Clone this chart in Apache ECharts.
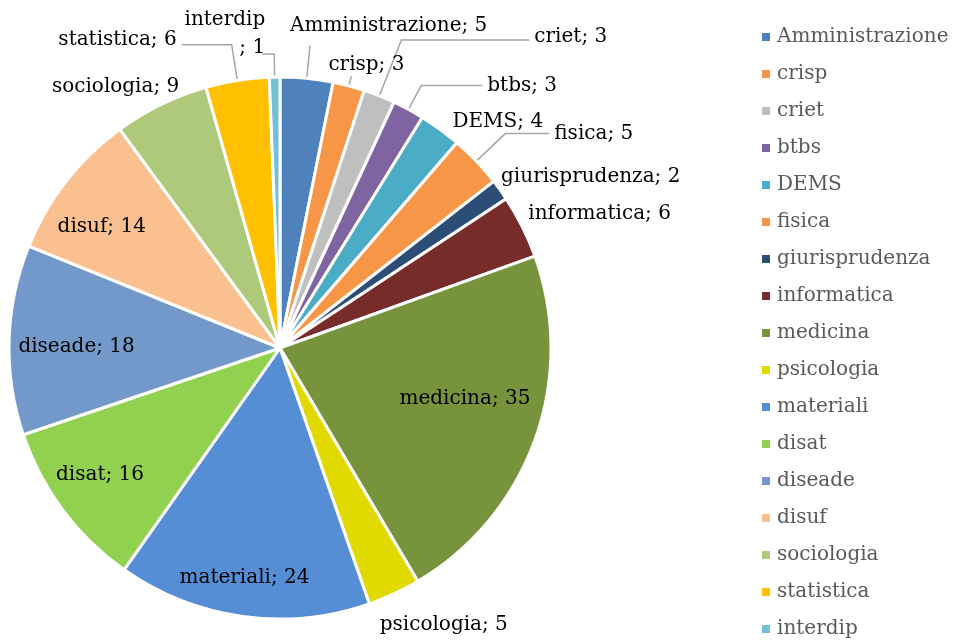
<!DOCTYPE html>
<html>
<head>
<meta charset="utf-8">
<script src="https://cdn.jsdelivr.net/npm/echarts@6/dist/echarts.min.js"></script>
<style>
html,body{margin:0;padding:0;background:#fff;}
#chart{width:955px;height:641px;}
</style>
</head>
<body>
<div id="chart"></div>
<script>
// ---- data ----
const categories = ['Amministrazione','crisp','criet','btbs','DEMS','fisica','giurisprudenza','informatica','medicina','psicologia','materiali','disat','diseade','disuf','sociologia','statistica','interdip'];
const values = [5,3,3,3,4,5,2,6,35,5,24,16,18,14,9,6,1];
const colors = ['#4F81BD','#F79646','#BFBFBF','#8064A2','#4BACC6','#F79646','#2C4D75','#772C2A','#77933C','#E0DA00','#558ED5','#92D050','#7299CA','#FAC090','#AFC97A','#FFC000','#72C0D5'];

// ---- label styling ----
// outside labels: leader-line lengths, text distance, vertical gap (+ above / - below)
const outsideStyle = {
  'Amministrazione': {len: 33, len2: 0,   dist: -20, line: true,  gap: 40},
  'crisp':           {len: 10, len2: 0,   dist: -23, line: true,  gap: 22},
  'criet':           {len: 60, len2: 128, dist: 5,   line: true,  gap: 6},
  'btbs':            {len: 27, len2: 61,  dist: 5,   line: true,  gap: 0},
  'DEMS':            {len: 9,  len2: 2,   dist: 5,   line: false, gap: 0},
  'fisica':          {len: 40, len2: 44,  dist: 5,   line: true,  gap: 0},
  'giurisprudenza':  {len: 22, len2: 0,   dist: -17, line: false, gap: 0},
  'informatica':     {len: 28, len2: 0,   dist: -19, line: false, gap: 0},
  'psicologia':      {len: 30, len2: 0,   dist: -27, line: false, gap: -8},
  'sociologia':      {len: 20, len2: 0,   dist: -27, line: false, gap: 0},
  'statistica':      {len: 36, len2: 50,  dist: 5,   line: true,  gap: 10},
  'interdip':        {len: 23, len2: 12,  dist: -3,  line: true,  gap: 40, wrap: true}
};
// inside labels: nudges from the ring's mid radius
const insideNudge = {
  'medicina':  [-30, -27],
  'diseade':   [25, 6],
  'disuf':     [2, 19],
  'disat':     [3, -10],
  'materiali': [-4, 3]
};

const FONT = 'DejaVu Serif';
const FS = 20;
const CX = 280, CY = 348, R = 271;

function fmt(s) {
  let t = s.wrap ? '{b}\n; {c}' : '{b}; {c}';
  if (s.gap > 0) t = t + '\n{gap| }';
  if (s.gap < 0) t = '{gap| }\n' + t;
  return t;
}

const mainData = categories.map((name, i) => {
  const s = outsideStyle[name];
  const item = {name: name, value: values[i], itemStyle: {color: colors[i]}};
  if (s) {
    item.label = {
      show: true, distanceToLabelLine: s.dist, formatter: fmt(s),
      lineHeight: s.wrap ? 28 : 22,
      rich: {gap: {lineHeight: Math.abs(s.gap) || 1, fontSize: 1}}
    };
    item.labelLine = {show: s.line, length: s.len, length2: s.len2};
  } else {
    item.label = {show: false};
    item.labelLine = {show: false};
  }
  return item;
});

const overlayData = categories.map((name, i) => ({
  name: name, value: values[i],
  label: {show: !!insideNudge[name]}
}));

const option = {
  animation: false,
  backgroundColor: '#fff',
  legend: {
    orient: 'vertical', left: 760, top: 27, padding: 0,
    icon: 'rect', itemWidth: 10, itemHeight: 10, itemGap: 17,
    data: categories,
    textStyle: {fontFamily: FONT, fontSize: FS, color: '#595959', lineHeight: 19, padding: [0,0,0,1]},
    selectedMode: false
  },
  series: [
    {
      type: 'pie', center: [CX, CY], radius: [0, R], startAngle: 90, clockwise: true,
      avoidLabelOverlap: false,
      itemStyle: {borderColor: '#fff', borderWidth: 3},
      label: {position: 'outside', color: '#000', fontFamily: FONT, fontSize: FS},
      labelLine: {lineStyle: {color: '#A6A6A6', width: 1.5}, minTurnAngle: 0, maxSurfaceAngle: 180},
      labelLayout: {hideOverlap: false, moveOverlap: null},
      emphasis: {disabled: true},
      data: mainData
    },
    {
      type: 'pie', center: [CX, CY], radius: [180, R], startAngle: 90, clockwise: true,
      silent: true, avoidLabelOverlap: false,
      itemStyle: {color: 'rgba(0,0,0,0)', borderWidth: 0},
      label: {position: 'inside', formatter: '{b}; {c}', color: '#000', fontFamily: FONT, fontSize: FS},
      labelLine: {show: false},
      labelLayout: function (p) {
        const n = insideNudge[categories[p.dataIndex]] || [0, 0];
        return {dx: n[0], dy: n[1], hideOverlap: false};
      },
      emphasis: {disabled: true},
      tooltip: {show: false},
      data: overlayData
    }
  ]
};

const chart = echarts.init(document.getElementById('chart'), null, {renderer: 'canvas'});
chart.setOption(option);
</script>
</body>
</html>
